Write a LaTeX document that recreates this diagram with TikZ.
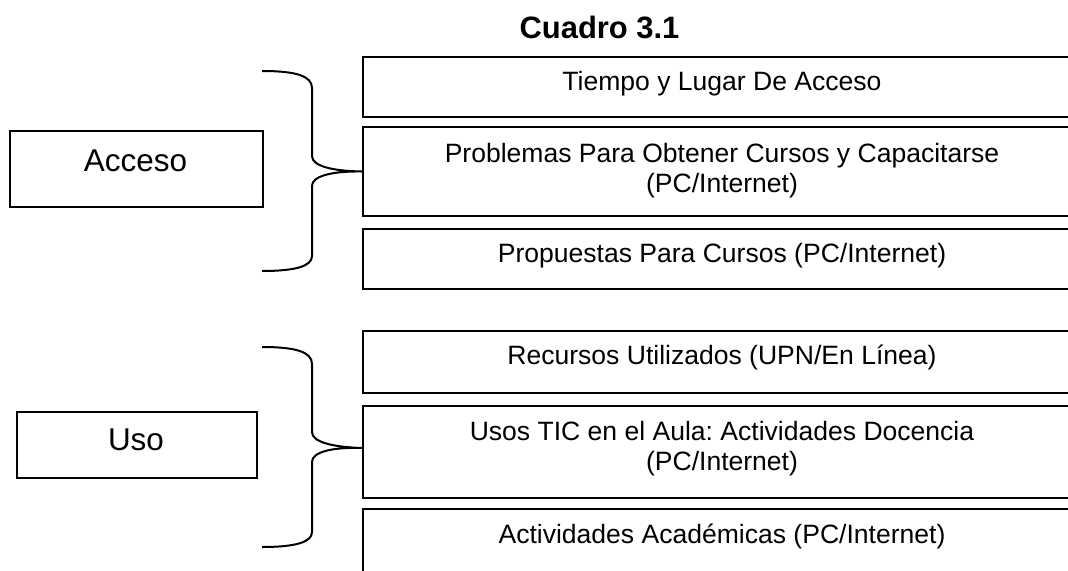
\documentclass[tikz,border=0pt]{standalone}
\usepackage{fontspec}
\setmainfont{Liberation Sans}
\frenchspacing
\begin{document}
\begin{tikzpicture}[x=0.75pt,y=-0.75pt,
  box/.style={draw, line width=1.5pt, inner sep=0pt, anchor=north west},
  txt/.style={font=\fontsize{19.9}{21.8}\selectfont, anchor=base, align=center, inner sep=0pt},
  lbl/.style={font=\fontsize{23.6}{28}\selectfont, anchor=base, inner sep=0pt},
  ttl/.style={font=\fontsize{23.2}{28}\selectfont\bfseries, anchor=base, inner sep=0pt},
  brace/.style={draw, line width=1.5pt, line join=round}]
\useasboundingbox (0,0) rectangle (1068,571);
\clip (0,0) rectangle (1068,571);

% title
\node[ttl] (title) at (599.5,38) {Cuadro 3.1};

% right boxes, first group
\node[box, minimum width={723*0.75pt}, minimum height={60*0.75pt}] (b1) at (362,56) {};
\node[box, minimum width={723*0.75pt}, minimum height={89*0.75pt}] (b2) at (362,126) {};
\node[box, minimum width={723*0.75pt}, minimum height={60*0.75pt}] (b3) at (362,228) {};
\node[txt] (t1) at (722,90) {Tiempo y Lugar De Acceso};
\node[txt] (t2) at (722,192) {Problemas Para Obtener Cursos y Capacitarse\\(PC/Internet)};
\node[txt] (t3) at (722,262) {Propuestas Para Cursos (PC/Internet)};

% right boxes, second group
\node[box, minimum width={723*0.75pt}, minimum height={62*0.75pt}] (b4) at (362,330) {};
\node[box, minimum width={723*0.75pt}, minimum height={92*0.75pt}] (b5) at (362,405) {};
\node[box, minimum width={723*0.75pt}, minimum height={75*0.75pt}] (b6) at (362,508) {};
\node[txt] (t4) at (722,364) {Recursos Utilizados (UPN/En Línea)};
\node[txt] (t5) at (722,470) {Usos TIC en el Aula: Actividades Docencia\\(PC/Internet)};
\node[txt] (t6) at (722,543) {Actividades Académicas (PC/Internet)};

% left boxes
\node[box, minimum width={253*0.75pt}, minimum height={76*0.75pt}] (acc) at (9,130) {};
\node[lbl] (taccs) at (135.5,171) {Acceso};
\node[box, minimum width={240*0.75pt}, minimum height={66*0.75pt}] (uso) at (16,411) {};
\node[lbl] (tuso) at (136,450) {Uso};

% braces
\coordinate (aT) at (262,71);
\coordinate (aB) at (262,271);
\coordinate (aTip) at (b2.west);
\path[brace] (aT) .. controls (296,71) and (312,76) .. (312,88) -- (312,156)
  .. controls (312,166) and (332,171) .. (aTip)
  .. controls (332,171) and (312,176) .. (312,186) -- (312,256)
  .. controls (312,266) and (296,271) .. (aB);

\coordinate (uT) at (262,347);
\coordinate (uB) at (262,547);
\coordinate (uTip) at ([yshift=3pt]b5.west);
\path[brace] (uT) .. controls (296,347) and (312,352) .. (312,364) -- (312,432)
  .. controls (312,442) and (332,447) .. (uTip)
  .. controls (332,447) and (312,452) .. (312,462) -- (312,532)
  .. controls (312,542) and (296,547) .. (uB);
\end{tikzpicture}
\end{document}
